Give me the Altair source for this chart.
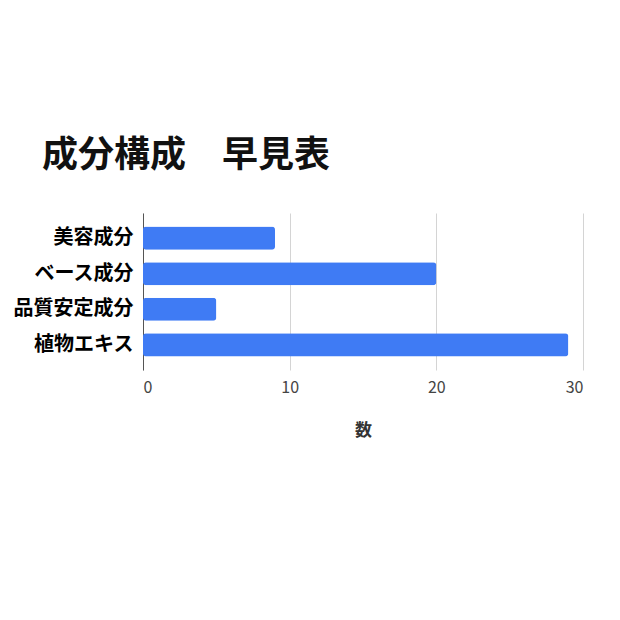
import altair as alt
import pandas as pd

categories = ["美容成分", "ベース成分", "品質安定成分", "植物エキス"]
values = [9, 20, 5, 29]
title_text = "成分構成　早見表"
x_title = "数"

df = pd.DataFrame({"cat": categories, "val": values})

FONT = "Noto Sans CJK JP"

chart = alt.Chart(df).mark_bar(
    color="#3f7bf4", cornerRadius=3
).encode(
    x=alt.X("val:Q", scale=alt.Scale(domain=[0, 30], nice=False),
            axis=alt.Axis(values=[0, 10, 20, 30], title=x_title, grid=True,
                          gridColor="#d4d4d4", domain=False, ticks=False,
                          labelFont=FONT, labelFontSize=16, labelColor="#444444",
                          labelPadding=9, titleFont=FONT, titleFontSize=17,
                          titleColor="#333333", titleFontWeight="bold",
                          titlePadding=27)),
    y=alt.Y("cat:N", sort=categories,
            scale=alt.Scale(paddingInner=0.35, paddingOuter=0.38),
            axis=alt.Axis(title=None, domain=True, domainColor="#555555",
                          ticks=False, labelFont=FONT, labelFontSize=20,
                          labelFontWeight="bold", labelColor="#000000",
                          labelPadding=10)),
).properties(
    width=440,
    height=157,
    autosize=alt.AutoSizeParams(type="none"),
    padding={"left": 135, "top": 205, "right": 20, "bottom": 120},
    title=alt.TitleParams(title_text, anchor="start", frame="group",
                          font=FONT, fontSize=36, fontWeight="bold",
                          color="#111111", dx=-101, offset=38),
).configure_view(stroke=None)

chart.save("out.html", embed_options={"renderer": "svg", "actions": False})
